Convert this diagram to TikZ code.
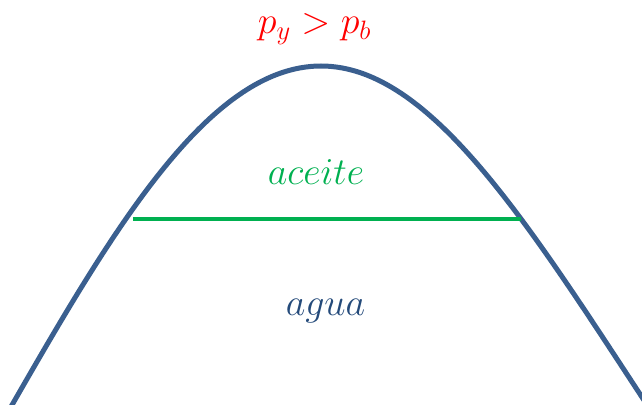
\RequirePackage{fix-cm}
\documentclass[tikz,border=0pt]{standalone}
\definecolor{curveblue}{HTML}{3A5F8F}
\definecolor{oilgreen}{HTML}{00B050}
\definecolor{waterblue}{HTML}{244A7A}
\begin{document}
\begin{tikzpicture}[x=1pt,y=-1pt,
  curve/.style={draw=curveblue,line width=5pt},
  level/.style={draw=oilgreen,line width=3.2pt},
  lbl/.style={anchor=base,inner sep=0pt,font=\fontsize{38}{44}\selectfont}]
\useasboundingbox (0,0) rectangle (642,404);
\begin{scope}
\clip (0,0) rectangle (642,404);
\draw[curve] plot[domain=-330:0,samples=90,variable=\u] ({321+\u},{66+348*(1-cos(\u/200 r))})
  -- plot[domain=0:340,samples=90,variable=\u] ({321+\u*(1+0.057*(1-cos(\u/200 r)))},{66+348*(1-cos(\u/200 r))});
\end{scope}
\coordinate (gl) at (133,219);
\coordinate (gr) at (521,219);
\draw[level] (gl) -- (gr);
\node[lbl,text=red] (p) at (314.5,34) {$p_y > p_b$};
\node[lbl,text=oilgreen] (oil) at (316,184) {$aceite$};
\node[lbl,text=waterblue] (water) at (325.5,315) {$agua$};
\end{tikzpicture}
\end{document}
